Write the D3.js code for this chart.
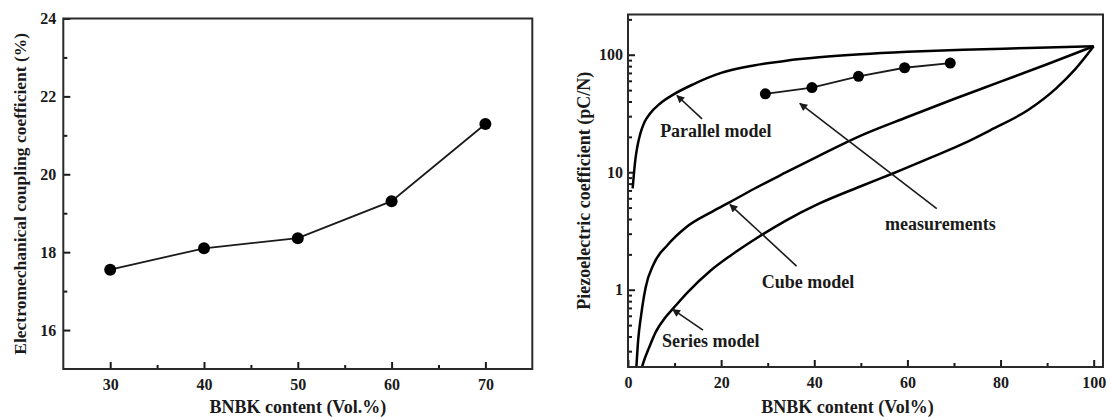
<!DOCTYPE html>
<html>
<head>
<meta charset="utf-8">
<script src="https://cdn.jsdelivr.net/npm/d3@7"></script>
<style>
  body { margin: 0; background: #fff; }
  svg text { font-family: 'Liberation Serif', 'Times New Roman', serif; font-weight: bold; fill: #1a1a1a; }
</style>
</head>
<body>
<svg id="chart" width="1111" height="417"></svg>
<script>
// left panel: electromechanical coupling vs BNBK content
const contentA = [30, 40, 50, 60, 70]
const couplingA = [17.55, 18.1, 18.36, 19.31, 21.29]
const ticksA_x = [30, 40, 50, 60, 70]
const minorA_x = [35, 45, 55, 65]
const ticksA_y = [16, 18, 20, 22, 24]
const minorA_y = [17, 19, 21, 23]

// right panel: measured piezoelectric coefficient
const contentB = [29.5, 39.5, 49.5, 59.4, 69.2]
const piezoB = [46.5, 52.5, 65.5, 77.5, 85]

// model curves
const parallelX = [1.0, 1.3, 1.6, 2.0, 2.6, 3.5, 4.7, 6.9, 9.8, 14, 20, 27, 34, 41, 50, 60, 72, 86, 100]
const parallelY = [7.3, 10, 13, 16.5, 21, 26.5, 31.5, 38.5, 46, 56, 70, 81, 89, 95, 101, 106, 110.5, 114, 118]
const cubeX = [1.8, 2.2, 2.8, 3.8, 5.5, 8.5, 12.5, 18, 22, 27, 34, 41, 50, 60, 70, 80, 90, 100]
const cubeY = [0.22, 0.38, 0.6, 1.05, 1.65, 2.4, 3.4, 4.6, 5.6, 7.2, 10, 13.8, 20.5, 29.5, 42, 59, 83, 118]
const seriesX = [3.0, 3.6, 4.5, 6, 8, 9.8, 12.8, 17.7, 22, 27, 34, 41, 50, 57, 65, 72, 78, 86, 92, 96, 100]
const seriesY = [0.22, 0.26, 0.32, 0.44, 0.58, 0.70, 0.95, 1.45, 1.95, 2.65, 3.9, 5.4, 7.6, 9.8, 13.3, 17.5, 23, 34, 52, 75, 118]

const ticksB_x = [0, 20, 40, 60, 80, 100]
const minorB_x = [10, 30, 50, 70, 90]
const ticksB_y = [1, 10, 100]
const minorB_y = [0.3, 0.4, 0.5, 0.6, 0.7, 0.8, 0.9, 2, 3, 4, 5, 6, 7, 8, 9, 20, 30, 40, 50, 60, 70, 80, 90, 200]

// annotations in data units: label, text anchor, arrow tail, arrow tip
const notes = [
  { label: 'Parallel model', tx: 6.9, ty: 20.1, x1: 15.9, y1: 28.5, x2: 10.5, y2: 45 },
  { label: 'Cube model', tx: 28.7, ty: 1.03, x1: 36.2, y1: 1.59, x2: 21.9, y2: 5.3 },
  { label: 'Series model', tx: 7.3, ty: 0.328, x1: 16.1, y1: 0.453, x2: 9.6, y2: 0.68 },
  { label: 'measurements', tx: 55.2, ty: 3.2, x1: 66.3, y1: 4.9, x2: 36.9, y2: 38.5 }
]

const svg = d3.select('#chart')
const ink = '#1a1a1a'

svg.append('defs').append('marker')
    .attr('id', 'head')
    .attr('viewBox', '0 0 10 10')
    .attr('refX', 9).attr('refY', 5)
    .attr('markerUnits', 'userSpaceOnUse')
    .attr('markerWidth', 10).attr('markerHeight', 8)
    .attr('orient', 'auto')
  .append('path')
    .attr('d', 'M0,0 L10,5 L0,10 Z')
    .attr('fill', ink)

function styleAxis(g) {
  g.select('.domain').remove()
  g.selectAll('line').attr('stroke', ink).attr('stroke-width', 2)
  g.selectAll('text').attr('fill', ink).style('font-size', '16px')
}

function drawFrame(x0, x1, y0, y1) {
  svg.append('rect')
      .attr('x', x0).attr('y', y1)
      .attr('width', x1 - x0).attr('height', y0 - y1)
      .attr('fill', 'none')
      .attr('stroke', '#2a2a2a')
      .attr('stroke-width', 2)
}

// ---------- left panel ----------
{
  const x = d3.scaleLinear().domain([25, 75]).range([63.3, 532.3])
  const y = d3.scaleLinear().domain([15, 24]).range([369, 18.5])

  svg.append('g').attr('transform', 'translate(0,369)')
      .call(d3.axisBottom(x).tickValues(ticksA_x).tickSize(-7).tickSizeOuter(0).tickPadding(10))
      .call(styleAxis)
  svg.append('g').attr('transform', 'translate(0,369)')
      .call(d3.axisBottom(x).tickValues(minorA_x).tickSize(-4).tickSizeOuter(0).tickFormat(''))
      .call(styleAxis)
  svg.append('g').attr('transform', 'translate(63.3,0)')
      .call(d3.axisLeft(y).tickValues(ticksA_y).tickSize(-7).tickSizeOuter(0).tickPadding(7))
      .call(styleAxis)
  svg.append('g').attr('transform', 'translate(63.3,0)')
      .call(d3.axisLeft(y).tickValues(minorA_y).tickSize(-4).tickSizeOuter(0).tickFormat(''))
      .call(styleAxis)

  drawFrame(63.3, 532.3, 369, 18.5)

  const pts = contentA.map((c, i) => [c, couplingA[i]])
  svg.append('path')
      .datum(pts)
      .attr('fill', 'none')
      .attr('stroke', ink)
      .attr('stroke-width', 1.8)
      .attr('d', d3.line().x(d => x(d[0])).y(d => y(d[1])))
  svg.append('g').selectAll('circle')
      .data(pts)
      .enter().append('circle')
      .attr('cx', d => x(d[0]))
      .attr('cy', d => y(d[1]))
      .attr('r', 6)
      .attr('fill', '#000')

  svg.append('text')
      .attr('x', (x.range()[0] + x.range()[1]) / 2)
      .attr('y', 413)
      .attr('text-anchor', 'middle')
      .style('font-size', '18px')
      .text('BNBK content (Vol.%)')
  svg.append('text')
      .attr('transform', 'translate(26,' + (y.range()[0] + y.range()[1]) / 2 + ') rotate(-90)')
      .attr('text-anchor', 'middle')
      .style('font-size', '17.5px')
      .text('Electromechanical coupling coefficient (%)')
}

// ---------- right panel ----------
{
  const x = d3.scaleLinear().domain([0, 102]).range([628, 1103])
  const y = d3.scaleLog().domain([0.22, 220]).range([367, 14.5])

  svg.append('g').attr('transform', 'translate(0,367)')
      .call(d3.axisBottom(x).tickValues(ticksB_x).tickSize(-7).tickSizeOuter(0).tickPadding(10).tickFormat(d3.format('d')))
      .call(styleAxis)
  svg.append('g').attr('transform', 'translate(0,367)')
      .call(d3.axisBottom(x).tickValues(minorB_x).tickSize(-4).tickSizeOuter(0).tickFormat(''))
      .call(styleAxis)
  svg.append('g').attr('transform', 'translate(628,0)')
      .call(d3.axisLeft(y).tickValues(ticksB_y).tickSize(-7).tickSizeOuter(0).tickPadding(5).tickFormat(d3.format('d')))
      .call(styleAxis)
  svg.append('g').attr('transform', 'translate(628,0)')
      .call(d3.axisLeft(y).tickValues(minorB_y).tickSize(-4).tickSizeOuter(0).tickFormat(''))
      .call(styleAxis)

  const clip = svg.append('clipPath').attr('id', 'clipB')
  clip.append('rect').attr('x', 628).attr('y', 14.5).attr('width', 475).attr('height', 352.5)

  const line = d3.line()
      .x(d => x(d[0]))
      .y(d => y(d[1]))
      .curve(d3.curveMonotoneX)

  const models = [
    parallelX.map((v, i) => [v, parallelY[i]]),
    cubeX.map((v, i) => [v, cubeY[i]]),
    seriesX.map((v, i) => [v, seriesY[i]])
  ]
  svg.append('g').attr('clip-path', 'url(#clipB)')
    .selectAll('path')
      .data(models)
      .enter().append('path')
      .attr('fill', 'none')
      .attr('stroke', '#000')
      .attr('stroke-width', 2.5)
      .attr('d', line)

  const meas = contentB.map((c, i) => [c, piezoB[i]])
  svg.append('path')
      .datum(meas)
      .attr('fill', 'none')
      .attr('stroke', ink)
      .attr('stroke-width', 1.8)
      .attr('d', d3.line().x(d => x(d[0])).y(d => y(d[1])))
  svg.append('g').selectAll('circle')
      .data(meas)
      .enter().append('circle')
      .attr('cx', d => x(d[0]))
      .attr('cy', d => y(d[1]))
      .attr('r', 5.5)
      .attr('fill', '#000')

  const ann = svg.append('g')
  ann.selectAll('line')
      .data(notes)
      .enter().append('line')
      .attr('x1', d => x(d.x1)).attr('y1', d => y(d.y1))
      .attr('x2', d => x(d.x2)).attr('y2', d => y(d.y2))
      .attr('stroke', ink)
      .attr('stroke-width', 1.6)
      .attr('marker-end', 'url(#head)')
  ann.selectAll('text')
      .data(notes)
      .enter().append('text')
      .attr('x', d => x(d.tx))
      .attr('y', d => y(d.ty))
      .style('font-size', '18px')
      .text(d => d.label)

  drawFrame(628, 1103, 367, 14.5)

  svg.append('text')
      .attr('x', 847.5)
      .attr('y', 413)
      .attr('text-anchor', 'middle')
      .style('font-size', '18px')
      .text('BNBK content (Vol%)')
  svg.append('text')
      .attr('transform', 'translate(589.5,' + (y.range()[0] + y.range()[1]) / 2 + ') rotate(-90)')
      .attr('text-anchor', 'middle')
      .style('font-size', '18px')
      .text('Piezoelectric coefficient (pC/N)')
}
</script>
</body>
</html>
